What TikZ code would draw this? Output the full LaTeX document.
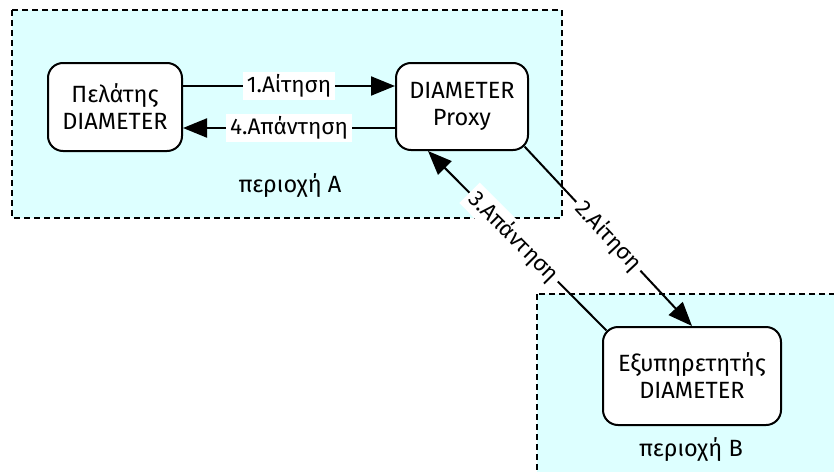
\documentclass[tikz,border=0pt]{standalone}
\usepackage{fontspec}
\setmainfont{Fira Sans}
\usetikzlibrary{arrows.meta,calc}
\definecolor{regionfill}{RGB}{221,255,255}
\begin{document}
\begin{tikzpicture}[x=1pt,y=-1pt,
  region/.style={draw, line width=1.9pt, dash pattern=on 6pt off 4pt, fill=regionfill},
  agent/.style={draw, line width=2pt, rounded corners=15pt, fill=white,
    align=center, inner sep=0pt, font=\fontsize{23.5}{27}\selectfont},
  msg/.style={line width=2pt, -{Triangle[length=24pt,width=19pt]}},
  msglabel/.style={fill=white, inner xsep=4pt, inner ysep=3pt, font=\fontsize{22.5}{25}\selectfont},
  areatext/.style={font=\fontsize{23.5}{27}\selectfont}
]
\clip (0,0) rectangle (834,471);

% administrative regions
\path[region] (12,10) rectangle (562,218);
\path[region] (537,294) rectangle (860,500);
\node[areatext] (areaA) at (290,186) {περιοχή A};
\node[areatext] (areaB) at (691,450) {περιοχή B};

% DIAMETER entities
\node[agent, minimum width=134pt, minimum height=88pt] (client) at (115,107) {Πελάτης\\DIAMETER};
\node[agent, minimum width=132pt, minimum height=87pt] (proxy) at (462,106.5) {DIAMETER\\Proxy};
\node[agent, minimum width=178pt, minimum height=98pt] (server) at (692,376) {Εξυπηρετητής\\DIAMETER};

% message levels
\coordinate (req) at (0,86);
\coordinate (ans) at (0,128);

% messages
\draw[msg] (client.east |- req) -- node[msglabel] {1.Αίτηση} (proxy.west |- req);
\draw[msg] ($(proxy.south east)+(-4.4,-4.4)$) -- node[msglabel, sloped] {2.Αίτηση} (server.north);
\draw[msg] ($(server.north west)+(4.4,4.4)$) -- node[msglabel, sloped, pos=0.52] {3.Απάντηση} ($(proxy.south)+(-34,0)$);
\draw[msg] (proxy.west |- ans) -- node[msglabel] {4.Απάντηση} (client.east |- ans);
\end{tikzpicture}
\end{document}
